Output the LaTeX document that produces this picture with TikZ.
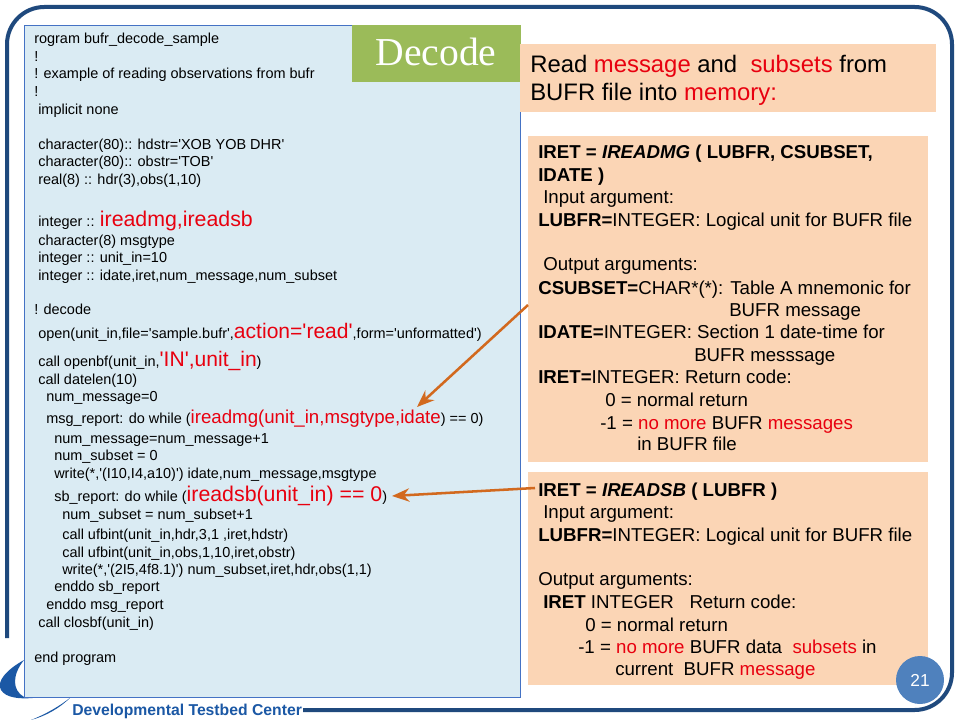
\documentclass[tikz,border=0pt]{standalone}
\usepackage{fontspec}
\setmainfont{Liberation Sans}[Ligatures=TeXOff]
\newfontfamily\serifdec{Liberation Serif}
\definecolor{framec}{HTML}{1F497D}
\definecolor{codefill}{HTML}{DAEBF3}
\definecolor{codeedge}{HTML}{4472C4}
\definecolor{peach}{HTML}{FBD5B5}
\definecolor{greenb}{HTML}{9BBB59}
\definecolor{redt}{HTML}{E8000F}
\definecolor{arrowc}{HTML}{D2691E}
\definecolor{pagec}{HTML}{4F81BD}
\definecolor{logoc}{HTML}{1B58A5}
\newcommand{\rd}[1]{\textcolor{redt}{#1}}
\newcommand{\bg}[1]{{\fontsize{15.8pt}{18pt}\selectfont\rd{#1}}}
\newcommand{\bm}[1]{{\fontsize{14pt}{16pt}\selectfont\rd{#1}}}
\newcommand{\bb}[1]{{\fontsize{16pt}{18pt}\selectfont\rd{#1}}}
\tikzset{
  x=0.75pt,y=-0.75pt,
  code/.style={anchor=base west,inner sep=0pt,yshift=-0.75pt,font=\fontsize{10.85pt}{12pt}\selectfont,text=black},
  side/.style={anchor=base west,inner sep=0pt,yshift=-0.75pt,font=\fontsize{14pt}{16pt}\selectfont,text=black},
  head/.style={anchor=base west,inner sep=0pt,yshift=-0.75pt,font=\fontsize{17.9pt}{20pt}\selectfont,text=black},
  panel/.style={fill=peach,draw=none},
  conn/.style={draw=arrowc,line width=1.9pt,-{Stealth[length=13pt,width=10pt]}},
}
\usetikzlibrary{arrows.meta}
\begin{document}
\begin{tikzpicture}
\useasboundingbox (0,0) rectangle (960,720);
\fill[white] (0,0) rectangle (960,720);
% frame
\draw[framec,line width=3pt,rounded corners=28pt] (7,638) -- (7,7) -- (952,7) -- (952,710) -- (303,710);
% logo
\fill[logoc] (24,660) .. controls (6,670) and (-4,682) .. (1,690) .. controls (6,698) and (20,700) .. (42,697) -- (24,697) .. controls (12,690) and (12,675) .. (24,660) -- cycle;
\fill[logoc] (71,697) .. controls (60,706) and (46,714) .. (31,720) .. controls (46,716) and (60,708) .. (71,697) -- cycle;
\node[anchor=base west,inner sep=0pt,font=\fontsize{11.8pt}{13pt}\selectfont\bfseries,text=logoc] (logo) at (72,715) {Developmental Testbed Center};
% code panel
\node[draw=codeedge,fill=codefill,line width=0.8pt,minimum width=372pt,minimum height=504pt,anchor=north west,inner sep=0pt] (codebox) at (24,25) {};
\node[fill=greenb,minimum width=126.75pt,minimum height=42.75pt,anchor=north west,inner sep=0pt] (decbox) at (352,25) {};
\node[font=\serifdec\fontsize{29.7pt}{32pt}\selectfont,text=white,inner sep=0pt] (dectext) at (436,52) {Decode};
% peach panels
\node[panel,minimum width=312pt,minimum height=51pt,anchor=north west,inner sep=0pt] (headbox) at (520,44) {};
\node[panel,minimum width=300pt,minimum height=244.5pt,anchor=north west,inner sep=0pt] (box1) at (528,136) {};
\node[panel,minimum width=300pt,minimum height=159.75pt,anchor=north west,inner sep=0pt] (box2) at (528,472) {};
% code text
\node[code] (c1) at (34,43) {rogram bufr\_decode\_sample};
\node[code] (c2) at (34,61) {!};
\node[code] (c3) at (34,78) {! example of reading observations from bufr};
\node[code] (c4) at (34,96) {!};
\node[code] (c5) at (38,114) {implicit none};
\node[code] (c6) at (38,149) {character(80):: hdstr='XOB YOB DHR'};
\node[code] (c7) at (38,166) {character(80):: obstr='TOB'};
\node[code] (c8) at (38,184) {real(8) :: hdr(3),obs(1,10)};
\node[code] (c9) at (38,226) {integer :: \bb{ireadmg,ireadsb}};
\node[code] (c10) at (38,245) {character(8) msgtype};
\node[code] (c11) at (38,262) {integer :: unit\_in=10};
\node[code] (c12) at (38,280) {integer :: idate,iret,num\_message,num\_subset};
\node[code] (c13) at (34,314) {! decode};
\node[code] (c14) at (38,338) {open(unit\_in,file='sample.bufr',\bg{action='read'},form='unformatted')};
\node[code] (c15) at (38,365) {call openbf(unit\_in,\bg{'IN',unit\_in})};
\node[code] (c16) at (38,383) {call datelen(10)};
\node[code] (c17) at (46,400) {num\_message=0};
\node[code] (c18) at (46,422) {msg\_report: do while (\bm{ireadmg(unit\_in,msgtype,idate}) == 0)};
\node[code] (c19) at (54,442) {num\_message=num\_message+1};
\node[code] (c20) at (54,459) {num\_subset = 0};
\node[code] (c21) at (54,477) {write(*,'(I10,I4,a10)') idate,num\_message,msgtype};
\node[code] (c22) at (54,500) {sb\_report: do while (\bb{ireadsb(unit\_in) == 0})};
\node[code] (c23) at (62,518) {num\_subset = num\_subset+1};
\node[code] (c24) at (62,538) {call ufbint(unit\_in,hdr,3,1 ,iret,hdstr)};
\node[code] (c25) at (62,556) {call ufbint(unit\_in,obs,1,10,iret,obstr)};
\node[code] (c26) at (62,573) {write(*,'(2I5,4f8.1)') num\_subset,iret,hdr,obs(1,1)};
\node[code] (c27) at (54,590) {enddo sb\_report};
\node[code] (c28) at (46,608) {enddo msg\_report};
\node[code] (c29) at (38,626) {call closbf(unit\_in)};
\node[code] (c30) at (34,661) {end program};
% header
\node[head] (h1) at (530,72) {Read \rd{message} and \ \rd{subsets} from};
\node[head] (h2) at (530,100) {BUFR file into \rd{memory:}};
% box 1
\node[side] (a1) at (538,158) {\textbf{IRET = \textit{IREADMG} ( LUBFR, CSUBSET,}};
\node[side] (a2) at (538,181) {\textbf{IDATE )}};
\node[side] (a3) at (543,203) {Input argument:};
\node[side] (a4) at (538,226) {\textbf{LUBFR=}INTEGER: Logical unit for BUFR file};
\node[side] (a5) at (543,270) {Output arguments:};
\node[side] (a6) at (538,294) {\textbf{CSUBSET=}CHAR*(*): Table A mnemonic for};
\node[side] (a7) at (729,315) {BUFR message};
\node[side] (a8) at (538,337) {\textbf{IDATE=}INTEGER: Section 1 date-time for};
\node[side] (a9) at (694,360) {BUFR messsage};
\node[side] (a10) at (538,382) {\textbf{IRET=}INTEGER: Return code:};
\node[side] (a11) at (605,405) {0 = normal return};
\node[side] (a12) at (600,428) {-1 = \rd{no more} BUFR \rd{messages}};
\node[side] (a13) at (637,449) {in BUFR file};
% box 2
\node[side] (b1) at (538,495) {\textbf{IRET = \textit{IREADSB} ( LUBFR )}};
\node[side] (b2) at (543,517) {Input argument:};
\node[side] (b3) at (538,540) {\textbf{LUBFR=}INTEGER: Logical unit for BUFR file};
\node[side] (b4) at (538,584) {Output arguments:};
\node[side] (b5) at (543,607) {\textbf{IRET} INTEGER \ \ Return code:};
\node[side] (b6) at (585,630) {0 = normal return};
\node[side] (b7) at (578,652) {-1 = \rd{no more} BUFR data \ \rd{subsets} in};
\node[side] (b8) at (615,674) {current \ BUFR \rd{message}};
% page number
\node[circle,fill=pagec,minimum size=36pt,inner sep=0pt,text=white,font=\fontsize{13pt}{15pt}\selectfont] (page) at (920,680) {21};
% connectors
\coordinate (s1) at (528,305);
\coordinate (e1) at (417,407);
\coordinate (s2) at (535,488);
\coordinate (e2) at (392,496);
\draw[conn] (s1) -- (e1);
\draw[conn] (s2) -- (e2);
\end{tikzpicture}
\end{document}
